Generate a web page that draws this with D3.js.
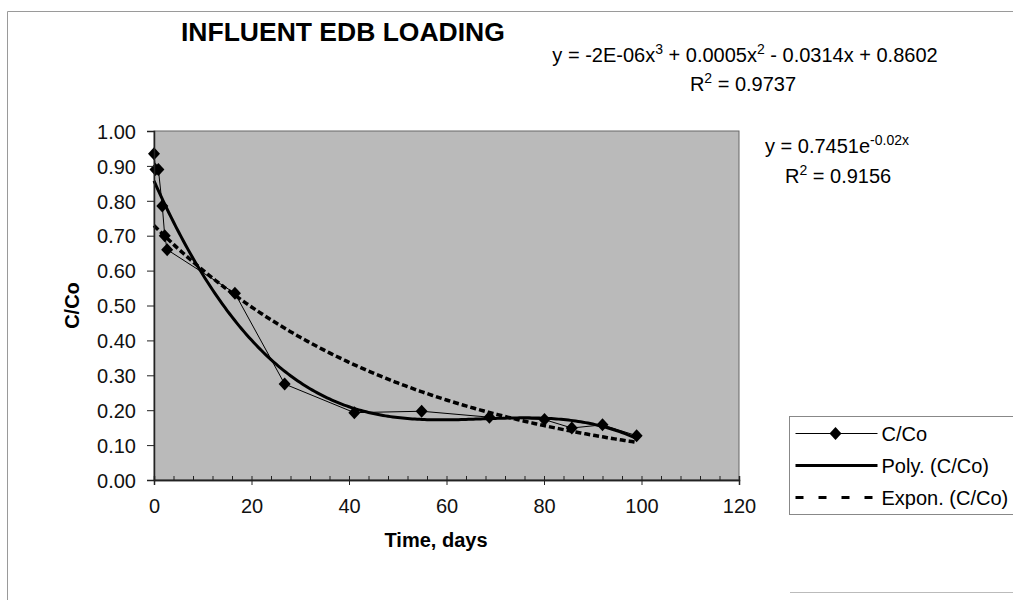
<!DOCTYPE html>
<html>
<head>
<meta charset="utf-8">
<script src="https://cdn.jsdelivr.net/npm/d3@7"></script>
<style>
  body { margin: 0; background: #fff; }
  svg { display: block; font-family: "Liberation Sans", Arial, sans-serif; }
</style>
</head>
<body>
<div id="chart"></div>
<script>
/* DATA */
var timeDays = [0, 0.3, 0.9, 1.7, 2.2, 2.7, 16.6, 26.8, 41.1, 54.9, 68.8, 80.1, 85.7, 92.0, 99.0];
var cOverCo  = [0.935, 0.89, 0.89, 0.785, 0.70, 0.66, 0.535, 0.275, 0.193, 0.197, 0.18, 0.173, 0.149, 0.158, 0.127];
var xTicks = [0, 20, 40, 60, 80, 100, 120];
var yTicks = [0, 0.1, 0.2, 0.3, 0.4, 0.5, 0.6, 0.7, 0.8, 0.9, 1.0];
var legendNames = ['C/Co', 'Poly. (C/Co)', 'Expon. (C/Co)'];

var W = 1013, H = 600;
var margin = { top: 131, left: 154, right: 274, bottom: 120 };
var width = 739 - margin.left,
    height = 480 - margin.top;

var svg = d3.select('#chart').append('svg')
    .attr('width', W)
    .attr('height', H);

// chart area frame
svg.append('path')
    .attr('d', 'M7.5,600 L7.5,11.5 L1013,11.5')
    .style('fill', 'none')
    .style('stroke', '#9a9a9a');
svg.append('line')
    .attr('x1', 790).attr('x2', 1013).attr('y1', 592.5).attr('y2', 592.5)
    .style('stroke', '#bbb');

var g = svg.append('g')
    .attr('transform', 'translate(' + margin.left + ',' + margin.top + ')');

var x = d3.scaleLinear().domain([0, 120]).range([0, width]);
var y = d3.scaleLinear().domain([0, 1]).range([height, 0]);

g.append('rect')
    .attr('width', width)
    .attr('height', height)
    .style('fill', '#bababa')
    .style('stroke', '#666')
    .style('stroke-width', 1);

/* fitted trend lines (least squares, like the spreadsheet does) */
function solve(A, b) {
    var n = b.length, M = A.map(function (r, i) { return r.concat([b[i]]); });
    for (var c = 0; c < n; c++) {
        var p = c;
        for (var r = c + 1; r < n; r++) if (Math.abs(M[r][c]) > Math.abs(M[p][c])) p = r;
        var t = M[c]; M[c] = M[p]; M[p] = t;
        for (var r2 = c + 1; r2 < n; r2++) {
            var f = M[r2][c] / M[c][c];
            for (var k = c; k <= n; k++) M[r2][k] -= f * M[c][k];
        }
    }
    var out = new Array(n);
    for (var i = n - 1; i >= 0; i--) {
        var s = M[i][n];
        for (var j = i + 1; j < n; j++) s -= M[i][j] * out[j];
        out[i] = s / M[i][i];
    }
    return out;
}

function polyFit(xs, ys, deg) {
    var n = deg + 1, A = [], b = [];
    for (var i = 0; i < n; i++) {
        A.push([]);
        for (var j = 0; j < n; j++) {
            A[i].push(d3.sum(xs, function (v) { return Math.pow(v, i + j); }));
        }
        b.push(d3.sum(xs, function (v, k) { return Math.pow(v, i) * ys[k]; }));
    }
    return solve(A, b);
}

var polyCoef = polyFit(timeDays, cOverCo, 3);
var lnFit = polyFit(timeDays, cOverCo.map(Math.log), 1);
var expA = Math.exp(lnFit[0]), expB = lnFit[1];

var xMin = d3.min(timeDays), xMax = d3.max(timeDays);
var trendX = d3.range(xMin, xMax, 0.5).concat([xMax]);

var line = d3.line()
    .x(function (d) { return x(d[0]); })
    .y(function (d) { return y(d[1]); });

var polyPts = trendX.map(function (t) {
    return [t, polyCoef[0] + polyCoef[1] * t + polyCoef[2] * t * t + polyCoef[3] * t * t * t];
});
var expPts = trendX.map(function (t) { return [t, expA * Math.exp(expB * t)]; });
var dataPts = timeDays.map(function (t, i) { return [t, cOverCo[i]]; });

g.append('path')
    .datum(dataPts)
    .attr('d', line)
    .style('fill', 'none')
    .style('stroke', '#000')
    .style('stroke-width', 1);

g.append('path')
    .datum(polyPts)
    .attr('d', line)
    .style('fill', 'none')
    .style('stroke', '#000')
    .style('stroke-width', 3);

g.append('path')
    .datum(expPts)
    .attr('d', line)
    .style('fill', 'none')
    .style('stroke', '#000')
    .style('stroke-width', 3.5)
    .style('stroke-dasharray', '6,3');

var diamond = 'M0,-6.5 L6,0 L0,6.5 L-6,0 Z';
g.selectAll('path.marker')
    .data(dataPts)
    .enter().append('path')
    .attr('class', 'marker')
    .attr('d', diamond)
    .attr('transform', function (d) { return 'translate(' + x(d[0]) + ',' + y(d[1]) + ')'; })
    .style('fill', '#000');

/* axes */
var yAxis = g.append('g')
    .call(d3.axisLeft(y).tickValues(yTicks).tickSize(7).tickPadding(11).tickFormat(d3.format('.2f')));
var xMinor = g.append('g')
    .attr('transform', 'translate(0,' + height + ')')
    .call(d3.axisBottom(x).tickValues(d3.range(0, 121, 4)).tickSize(-4).tickFormat(''));
var xAxis = g.append('g')
    .attr('transform', 'translate(0,' + height + ')')
    .call(d3.axisBottom(x).tickValues(xTicks).tickSize(5).tickFormat(d3.format('d')));

[yAxis, xAxis, xMinor].forEach(function (a) {
    a.selectAll('path.domain').style('stroke', '#222').style('stroke-width', 1.5);
    a.selectAll('line').style('stroke', '#222');
    a.selectAll('text').style('font-size', '20px').style('fill', '#111')
        .style('font-family', '"Liberation Sans", Arial, sans-serif');
});
xAxis.selectAll('text').attr('y', 33).attr('dy', null);
yAxis.selectAll('text').attr('dy', '0.36em');

/* titles */
svg.append('text')
    .attr('x', 181).attr('y', 41)
    .style('font-size', '26.5px').style('font-weight', 'bold')
    .text('INFLUENT EDB LOADING');

svg.append('text')
    .attr('x', 436).attr('y', 547)
    .attr('text-anchor', 'middle')
    .style('font-size', '20px').style('font-weight', 'bold')
    .text('Time, days');

svg.append('text')
    .attr('transform', 'translate(79,' + (margin.top + height / 2) + ') rotate(-90)')
    .attr('text-anchor', 'middle')
    .style('font-size', '20px').style('font-weight', 'bold')
    .text('C/Co');

/* trendline labels */
function eqLabel(xp, yp, anchor, parts) {
    var t = svg.append('text')
        .attr('x', xp).attr('y', yp)
        .attr('text-anchor', anchor)
        .style('font-size', '20px');
    var up = false;
    parts.forEach(function (p) {
        var sup = p.charAt(0) === '^';
        var ts = t.append('tspan').text(sup ? p.slice(1) : p);
        if (sup && !up) { ts.attr('dy', -8).style('font-size', '14px'); up = true; }
        else if (sup) { ts.style('font-size', '14px'); }
        else if (up) { ts.attr('dy', 8); up = false; }
    });
}

eqLabel(745, 62, 'middle', ['y = -2E-06x', '^3', ' + 0.0005x', '^2', ' - 0.0314x + 0.8602']);
eqLabel(743, 91, 'middle', ['R', '^2', ' = 0.9737']);
eqLabel(765, 153, 'start', ['y = 0.7451e', '^-0.02x']);
eqLabel(785, 183, 'start', ['R', '^2', ' = 0.9156']);

/* legend */
var legend = svg.append('g').attr('transform', 'translate(789.5,416.5)');
legend.append('rect')
    .attr('width', 240).attr('height', 98)
    .style('fill', '#fff')
    .style('stroke', '#888');

var rows = legend.selectAll('g.legendg')
    .data(legendNames)
    .enter().append('g')
    .attr('class', 'legendg')
    .attr('transform', function (d, i) { return 'translate(0,' + (17 + i * 32) + ')'; });

rows.append('line')
    .attr('x1', 6).attr('x2', 88)
    .style('stroke', '#000')
    .style('stroke-width', function (d, i) { return i === 0 ? 1 : 3; })
    .style('stroke-dasharray', function (d, i) { return i === 2 ? '8,15' : null; });

rows.filter(function (d, i) { return i === 0; })
    .append('path')
    .attr('d', diamond)
    .attr('transform', 'translate(46,0)')
    .style('fill', '#000');

rows.append('text')
    .attr('x', 92).attr('dy', '0.36em')
    .style('font-size', '20px')
    .text(function (d) { return d; });
</script>
</body>
</html>
